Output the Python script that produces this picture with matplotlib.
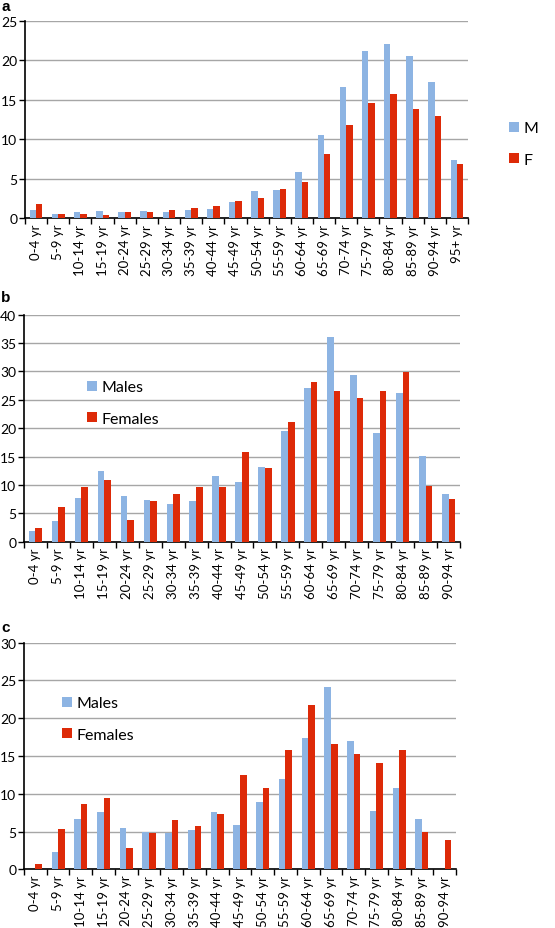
"""Age distribution bar charts, three panels (a, b, c)."""

import matplotlib.pyplot as plt
import numpy as np

plt.rcParams["font.family"] = ["Lato", "DejaVu Sans"]

BLUE = "#8db4e3"
RED = "#dd2a08"
GRID = "#a6a6a6"

AGES_A = ["0-4 yr", "5-9 yr", "10-14 yr", "15-19 yr", "20-24 yr", "25-29 yr",
          "30-34 yr", "35-39 yr", "40-44 yr", "45-49 yr", "50-54 yr", "55-59 yr",
          "60-64 yr", "65-69 yr", "70-74 yr", "75-79 yr", "80-84 yr", "85-89 yr",
          "90-94 yr", "95+ yr"]
AGES_BC = AGES_A[:-1]

A_MALE = [1.07, 0.6, 0.83, 0.9, 0.75, 0.9, 0.75, 1.0, 1.24, 2.1, 3.5, 3.6,
          5.9, 10.5, 16.65, 21.2, 22.05, 20.6, 17.3, 7.4]
A_FEMALE = [1.86, 0.55, 0.55, 0.4, 0.75, 0.75, 1.05, 1.36, 1.5, 2.15, 2.6, 3.7,
            4.65, 8.1, 11.85, 14.55, 15.8, 13.9, 12.9, 6.9]

B_MALE = [1.95, 3.65, 7.7, 12.4, 8.05, 7.35, 6.65, 7.1, 11.5, 10.5, 13.25, 19.5,
          27.05, 36.0, 29.3, 19.2, 26.2, 15.1, 8.4]
B_FEMALE = [2.5, 6.05, 9.65, 10.95, 3.75, 7.1, 8.35, 9.65, 9.65, 15.75, 12.95, 21.15,
            28.1, 26.6, 25.3, 26.6, 29.95, 9.9, 7.55]

C_MALE = [0.0, 2.3, 6.6, 7.65, 5.5, 5.0, 4.8, 5.15, 7.6, 5.8, 8.85, 12.0,
          17.4, 24.2, 17.0, 7.7, 10.7, 6.65, 0.0]
C_FEMALE = [0.7, 5.35, 8.6, 9.4, 2.85, 4.8, 6.5, 5.75, 7.3, 12.5, 10.8, 15.8,
            21.7, 16.55, 15.2, 14.1, 15.8, 5.0, 3.85]

W, H = 555, 929


def px_axes(fig, left, top, right, bottom):
    return fig.add_axes([left / W, 1 - bottom / H, (right - left) / W, (bottom - top) / H])


def panel(ax, labels, male, female, ymax, male_label, female_label):
    x = np.arange(len(labels))
    bw = 0.29
    ax.bar(x - bw / 2, male, bw, color=BLUE, label=male_label, zorder=3)
    ax.bar(x + bw / 2, female, bw, color=RED, label=female_label, zorder=3)
    ax.set_xlim(-0.5, len(labels) - 0.5)
    ax.set_ylim(0, ymax)
    ax.set_yticks(np.arange(0, ymax + 1, 5))
    ax.yaxis.grid(True, color=GRID, lw=1.0, zorder=0)
    ax.set_axisbelow(True)
    # category boundaries carry the tick marks, labels sit at the centres
    ax.set_xticks(np.arange(-0.5, len(labels)), minor=False)
    ax.set_xticklabels([])
    ax.set_xticks(x, minor=True)
    ax.set_xticklabels(labels, minor=True, rotation=90, fontsize=9.5)
    ax.tick_params(axis="x", which="major", direction="out", length=4, width=1)
    ax.tick_params(axis="x", which="minor", length=0, pad=4)
    ax.tick_params(axis="y", direction="out", length=4, width=1, labelsize=10, pad=1.5)
    for s in ("top", "right"):
        ax.spines[s].set_visible(False)
    for s in ("left", "bottom"):
        ax.spines[s].set_linewidth(1.2)


fig = plt.figure(figsize=(W / 100, H / 100), dpi=100)

legend_kw = dict(bbox_transform=fig.transFigure, frameon=False, fontsize=11.5,
                 handlelength=0.6, handleheight=0.6, handletextpad=0.3,
                 labelspacing=1.1, loc="center left")

ax_a = px_axes(fig, 25, 22, 468, 219.3)
panel(ax_a, AGES_A, A_MALE, A_FEMALE, 25, "M", "F")
ax_a.legend(bbox_to_anchor=(495 / W, 1 - 145 / H), **legend_kw)

ax_b = px_axes(fig, 24, 315.7, 460, 542.7)
panel(ax_b, AGES_BC, B_MALE, B_FEMALE, 40, "Males", "Females")
ax_b.legend(bbox_to_anchor=(73 / W, 1 - 404 / H), **legend_kw)

ax_c = px_axes(fig, 24, 643.7, 456, 870.3)
panel(ax_c, AGES_BC, C_MALE, C_FEMALE, 30, "Males", "Females")
ax_c.legend(bbox_to_anchor=(48 / W, 1 - 720 / H), **legend_kw)

for letter, ytop in (("a", 0), ("b", 291), ("c", 621)):
    fig.text(1 / W, 1 - ytop / H, letter, fontsize=11, fontweight="bold",
             family=["Liberation Sans", "DejaVu Sans"], ha="left", va="top")

fig.savefig("out.png", dpi=100)
